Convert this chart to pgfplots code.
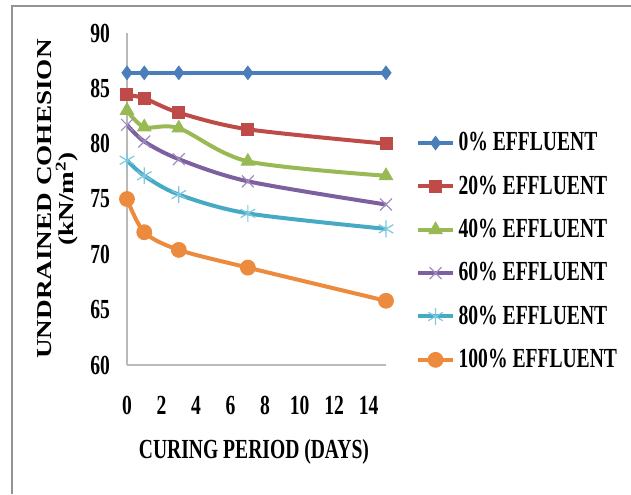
\documentclass[border=0pt]{standalone}
\usepackage{pgfplots}
\pgfplotsset{compat=1.18}
\usepackage{graphicx}
\usepackage{fontspec}
\setmainfont{Liberation Serif}[FakeStretch=0.71]
\newfontfamily\ylabfont{Liberation Serif}
\definecolor{cblue}{HTML}{4A7EBB}
\definecolor{cred}{HTML}{BE4B48}
\definecolor{cgreen}{HTML}{98B954}
\definecolor{cpurple}{HTML}{7D60A0}
\definecolor{cpurplel}{HTML}{A08CC0}
\definecolor{ccyan}{HTML}{46AAC5}
\definecolor{ccyanl}{HTML}{7CC8DC}
\definecolor{corange}{HTML}{EC8A3E}
\begin{document}
\begin{tikzpicture}
\useasboundingbox (-63.5pt,-64.5pt) rectangle (252pt,182.5pt);
\draw[color=gray!85, line width=1pt] (-57.5pt,-64.5pt) -- (-57.5pt,179.75pt) -- (252pt,179.75pt);
\begin{axis}[
  at={(0,0)}, anchor=south west,
  width=129.5pt, height=166pt, scale only axis,
  xmin=0, xmax=15, ymin=60, ymax=90,
  xtick={0,2,...,14}, ytick={60,65,...,90},
  axis x line*=bottom, axis y line*=left,
  axis line style={color=gray!55, line width=0.6pt, -},
  major tick length=0pt,
  /pgf/number format/assume math mode=true,
  tick label style={font=\fontsize{13.8}{15}\selectfont\bfseries},
  xticklabel style={yshift=-12pt},
  yticklabel style={xshift=-5pt},
  xlabel={CURING PERIOD (DAYS)},
  xlabel style={at={(axis description cs:0.49,-0.262)}, anchor=center, font=\fontsize{13.8}{15}\selectfont\bfseries},
  ylabel={\scalebox{1}[0.78]{\begin{tabular}{c}UNDRAINED COHESION\\[-2pt](kN/m\textsuperscript{2})\end{tabular}}},
  ylabel style={at={(axis description cs:-0.266,0.5)}, anchor=center, rotate=0, font=\ylabfont\fontsize{13.6}{15}\selectfont\bfseries},
  legend style={draw=none, fill=none, at={(axis description cs:1.093,0.342)}, anchor=west,
    font=\fontsize{13.8}{15}\selectfont\bfseries, row sep=7.0pt},
  legend cell align=left,
  every axis plot/.append style={line width=2pt, smooth, tension=0.5},
]
\addplot[color=cblue, mark=diamond*, mark size=3.3pt, mark options={fill=cblue, line width=0.5pt}]
  coordinates {(0,86.4) (1,86.4) (3,86.4) (7,86.4) (15,86.4)};
\addlegendentry{0\% EFFLUENT}
\addplot[color=cred, mark=square*, mark size=3pt, mark options={fill=cred, line width=0.5pt}]
  coordinates {(0,84.4) (1,84.1) (3,82.8) (7,81.3) (15,80.0)};
\addlegendentry{20\% EFFLUENT}
\addplot[color=cgreen, mark=triangle*, mark size=3.8pt, mark options={fill=cgreen, line width=0.5pt}]
  coordinates {(0,83.0) (1,81.5) (3,81.4) (7,78.4) (15,77.1)};
\addlegendentry{40\% EFFLUENT}
\addplot[color=cpurple, mark=x, mark size=4.2pt, mark options={draw=cpurplel, line width=0.6pt}]
  coordinates {(0,81.7) (1,80.2) (3,78.6) (7,76.6) (15,74.5)};
\addlegendentry{60\% EFFLUENT}
\addplot[color=ccyan, mark=asterisk, mark size=4.2pt, mark options={draw=ccyanl, line width=0.6pt}]
  coordinates {(0,78.5) (1,77.1) (3,75.4) (7,73.7) (15,72.3)};
\addlegendentry{80\% EFFLUENT}
\addplot[color=corange, mark=*, mark size=3.7pt, mark options={fill=corange, line width=0.5pt}]
  coordinates {(0,75.0) (1,72.0) (3,70.4) (7,68.8) (15,65.8)};
\addlegendentry{100\% EFFLUENT}
\end{axis}
\end{tikzpicture}
\end{document}
